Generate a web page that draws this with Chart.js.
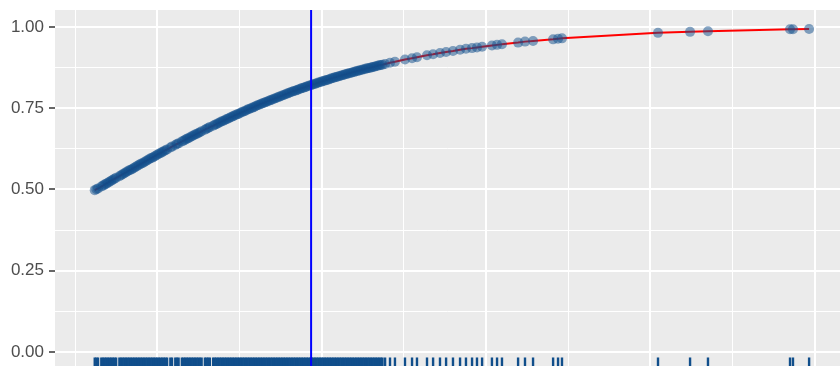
<!DOCTYPE html>
<html>
<head>
<meta charset="utf-8">
<script src="https://cdn.jsdelivr.net/npm/chart.js@4.4.1/dist/chart.umd.min.js"></script>
<style>
html,body{margin:0;padding:0;background:#fff;overflow:hidden}
#wrap{position:relative;width:840px;height:366px}
canvas{display:block}
</style>
</head>
<body>
<div id="wrap"><canvas id="c" width="840" height="366"></canvas></div>
<script>
// predictor values (one per observation) and fitted probability
const xVals = [
  12,13,14,16,17,18,19,20,21,22,
  23,24,25,27,28,29,30,31,32,33,
  34,35,36,37,38,39,40,41,42,43,
  44,45,46,47,48,49,50,51,52,53,
  54,55,56,58,59,61,62,63,65,66,
  67,68,69,70,71,72,73,74,75,76,
  77,79,80,81,82,84,85,86,87,88,
  89,90,91,92,93,94,95,96,97,98,
  99,100,101,102,103,104,105,106,107,108,
  109,110,111,112,113,114,115,116,117,118,
  119,120,121,122,123,124,125,126,127,128,
  129,130,131,132,133,134,135,136,137,138,
  139,140,141,142,143,144,145,146,147,148,
  149,150,151,152,153,154,155,156,157,158,
  159,160,161,162,163,164,165,166,167,168,
  169,170,171,172,173,174,175,176,177,178,
  179,180,181,182,183,184,185,186,187,
  188.6,191.6,194.6,200.7,205.0,208.0,214.1,217.8,222.0,225.7,
  229.9,234.2,237.8,241.5,244.5,247.6,253.6,256.7,259.7,269.5,
  273.7,278.6,290.8,293.8,296.2,354.6,374.1,385.0,434.9,436.7,446.5
];
const yVals = [
  .498,.501,.503,.509,.512,.515,.518,.521,.524,.527,
  .530,.533,.536,.541,.544,.547,.550,.553,.556,.559,
  .561,.564,.567,.570,.573,.576,.579,.581,.584,.587,
  .590,.593,.596,.598,.601,.604,.607,.610,.612,.615,
  .618,.621,.623,.629,.632,.637,.640,.642,.648,.650,
  .653,.656,.658,.661,.664,.666,.669,.671,.674,.676,
  .679,.684,.687,.689,.692,.696,.699,.701,.704,.706,
  .709,.711,.713,.716,.718,.721,.723,.725,.728,.730,
  .732,.734,.737,.739,.741,.743,.746,.748,.750,.752,
  .754,.757,.759,.761,.763,.765,.767,.769,.771,.773,
  .775,.777,.779,.781,.783,.785,.787,.789,.791,.793,
  .795,.797,.799,.801,.803,.804,.806,.808,.810,.812,
  .813,.815,.817,.819,.820,.822,.824,.825,.827,.829,
  .830,.832,.834,.835,.837,.838,.840,.842,.843,.845,
  .846,.848,.849,.851,.852,.854,.855,.857,.858,.859,
  .861,.862,.864,.865,.866,.868,.869,.870,.872,.873,
  .874,.875,.877,.878,.879,.881,.882,.883,.884,
  .886,.890,.893,.900,.904,.907,.913,.916,.920,.923,
  .926,.930,.933,.935,.937,.939,.943,.945,.947,.952,
  .955,.957,.962,.964,.965,.982,.985,.987,.993,.993,.994
];
const cutoffX = 143.6;
const yTicks = [0,0.125,0.25,0.375,0.5,0.625,0.75,0.875,1];
const xGridVals = [0,50,100,150,200,250,300,350,400,450];

const RUG_Y = -0.0335;
const pts = xVals.map((x,i)=>({x, y:yVals[i]}));
const isMajorY = v => Math.abs(v*4-Math.round(v*4))<1e-6;
const isMajorX = v => Math.round(v/50)%2===1;

const panelBg = {id:'panelBg', beforeDraw(chart){
  const {ctx, chartArea:a} = chart;
  ctx.save(); ctx.fillStyle='#EBEBEB'; ctx.fillRect(a.left,a.top,a.right-a.left,a.bottom-a.top); ctx.restore();
}};

Chart.defaults.font.family = "'Liberation Sans', Arial, sans-serif";

new Chart(document.getElementById('c'), {
  type:'scatter',
  data:{ datasets:[
    { data:[{x:cutoffX,y:-1},{x:cutoffX,y:2}], showLine:true, borderColor:'#0000FF', borderWidth:2, pointRadius:0 },
    { data:pts, pointRadius:5, pointBackgroundColor:'rgba(16,78,139,0.5)', pointBorderWidth:0 },
    { data:pts, showLine:true, borderColor:'#FF0000', borderWidth:2, pointRadius:0 },
    { data:xVals.map(x=>({x, y:RUG_Y})), pointStyle:'line', pointRotation:90, pointRadius:5.4, pointBorderColor:'#104E8B', pointBorderWidth:2.4 }
  ]},
  options:{
    responsive:false, animation:false, devicePixelRatio:1,
    layout:{ autoPadding:false, padding:{ top:10, left:0, right:0, bottom:0 } },
    plugins:{ legend:{display:false}, tooltip:{enabled:false} },
    scales:{
      x:{ type:'linear', min:-12.17, max:465.3,
        afterBuildTicks: s=>{ s.ticks = xGridVals.map(v=>({value:v})); },
        afterFit: s=>{ s.height = 0; },
        ticks:{ display:false },
        grid:{ color:'#FFFFFF', lineWidth: c=> (c.tick && isMajorX(c.tick.value)) ? 2 : 1, drawTicks:false },
        border:{ display:false } },
      y:{ type:'linear', min:-0.0431, max:1.0523,
        afterBuildTicks: s=>{ s.ticks = yTicks.map(v=>({value:v})); },
        afterFit: s=>{ s.width = 55; s.paddingTop = 0; s.paddingBottom = 0; },
        ticks:{ callback: v=> isMajorY(v) ? v.toFixed(2) : '', color:'#4D4D4D', font:{size:17}, padding:5, autoSkip:false },
        grid:{ color:'#FFFFFF', lineWidth: c=> (c.tick && isMajorY(c.tick.value)) ? 2 : 1,
          tickLength:6, tickWidth:1.5, tickColor: c=> (c.tick && isMajorY(c.tick.value)) ? '#333333' : 'rgba(0,0,0,0)' },
        border:{ display:false } }
    }
  },
  plugins:[panelBg]
});
</script>
</body>
</html>
